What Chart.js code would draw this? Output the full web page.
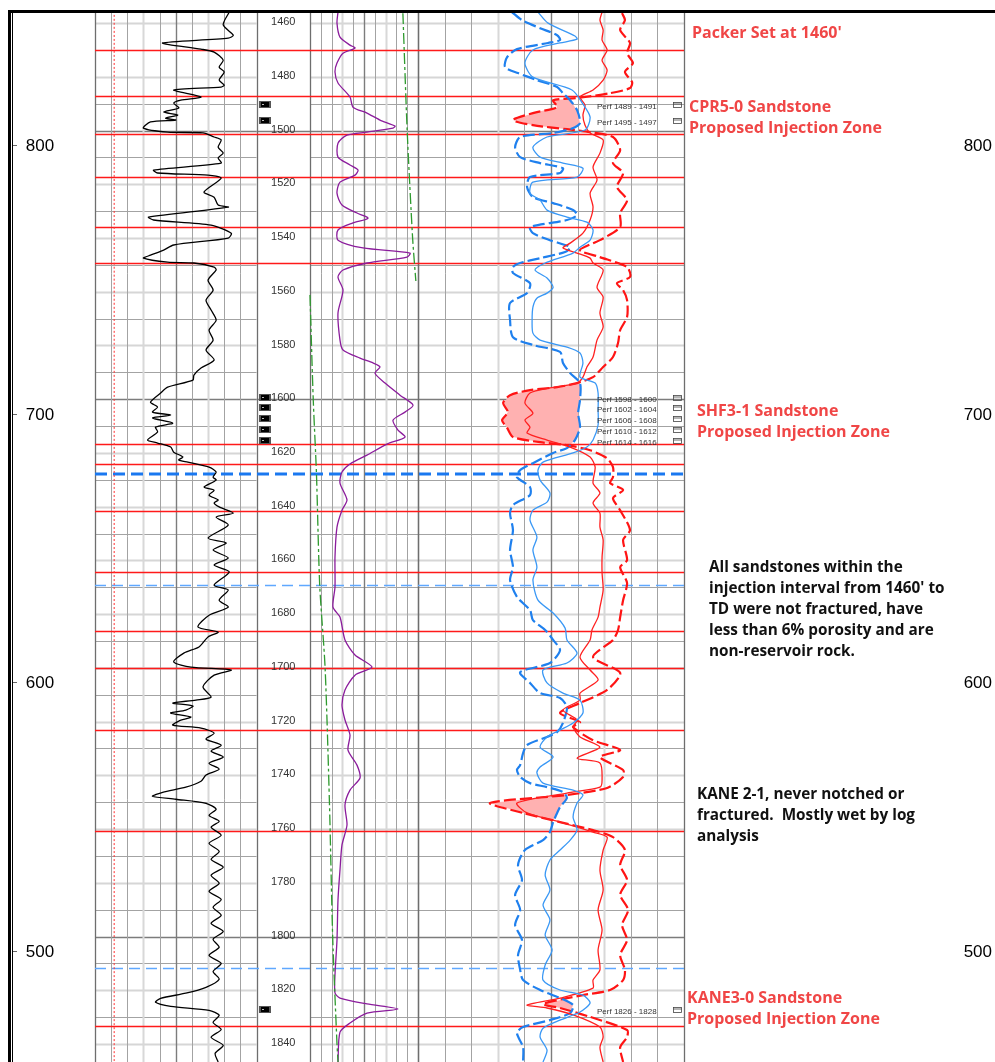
<!DOCTYPE html>
<html>
<head>
<meta charset="utf-8">
<title>Injection interval log</title>
<script src="https://cdn.jsdelivr.net/npm/chart.js@4.4.0/dist/chart.umd.min.js"></script>
<style>
  html, body { margin: 0; padding: 0; background: #fff; }
  canvas { display: block; }
</style>
</head>
<body>
<canvas id="logChart" width="995" height="1062"></canvas>
<script>
'use strict';

// ---- Depth window (ft) and elevation reference ----
const DEPTH_TOP = 1455.5;
const DEPTH_BOTTOM = 1846.7;
const KB_ELEV = 2305.4;                 // elevation = KB_ELEV - depth
const ELEV_TICKS = [800, 700, 600, 500];
const DEPTH_LABELS = [1460, 1480, 1500, 1520, 1540, 1560, 1580, 1600, 1620, 1640, 1660, 1680, 1700, 1720, 1740, 1760, 1780, 1800, 1820, 1840];

// ---- Curve scales ----
const GR_SCALE = [0, 160];              // API
const GR_BASELINE = 19;                 // API, dotted red
const SP_SCALE = [-100, 8];             // mV
const TEMP_SCALE = [100, 110];          // degF, wraps around the track
const POR_SCALE = [0, 100];             // track 4 units

// ---- Curves: [depth ft, value] ----
const GR = [[1455.9,133],[1460.7,127],[1464.5,137],[1465.6,132],[1467.4,67],[1469.7,105],[1470.8,118],[1473.8,127],[1476.4,123],[1478.2,128],[1481.2,123],[1483.1,128],[1483.8,125],[1484.9,78],[1487.5,105],[1488.7,85],[1489.8,78],[1491.6,83],[1493.1,68],[1494.2,82],[1495.4,70],[1496.1,80],[1496.8,55],[1499.1,48],[1500.6,72],[1500.9,107],[1502.4,118],[1503.5,125],[1506.2,122],[1508.4,127],[1510.2,122],[1512.1,125],[1514.7,58],[1515.8,62],[1516.6,112],[1517.7,125],[1522.9,108],[1524.8,118],[1527.7,122],[1528.5,132],[1532.2,53],[1533.3,58],[1535.2,115],[1538.2,135],[1540.0,132],[1542.6,78],[1544.5,68],[1546.4,55],[1547.5,48],[1549.0,72],[1549.3,98],[1550.8,118],
  [1551.9,120],[1555.7,112],[1559.4,117],[1563.1,110],[1566.8,115],[1570.6,120],[1574.3,113],[1578.0,117],[1581.7,110],[1585.4,118],[1588.4,105],[1591.0,98],[1592.9,97],[1595.5,72],[1597.7,65],[1601.1,55],[1602.9,62],[1604.8,57],[1605.9,75],[1607.0,57],[1608.9,77],[1610.4,60],[1612.2,62],[1615.2,52],[1616.3,62],[1617.8,75],[1619.7,78],[1621.5,87],[1622.6,83],[1623.4,92],[1625.3,113],[1627.1,120],[1629.0,117],[1630.1,120],[1632.7,108],[1633.9,118],[1635.7,113],[1637.5,122],[1638.6,118],[1640.1,123],[1642.4,137],[1643.9,120],[1646.8,132],[1651.7,112],[1653.5,130],[1656.1,117],[1659.1,132],[1661.7,118],[1664.3,133],[1669.2,118],[1671.0,132],[1674.8,123],[1677.4,132],[1680.4,113],[1684.8,102],[1686.7,122],[1688.5,112],[1692.2,103],[1694.5,88],[1697.8,78],[1699.7,95],[1700.8,135],[1702.7,118],[1707.1,107],[1710.9,115],
  [1712.0,100],[1713.1,77],[1714.2,97],[1715.7,90],[1716.8,75],[1718.3,95],[1719.8,83],[1721.3,77],[1722.4,105],[1724.3,118],[1726.5,110],[1728.8,125],[1731.0,115],[1733.2,127],[1735.5,113],[1737.7,123],[1739.9,110],[1742.2,105],[1744.4,90],[1746.3,67],[1747.8,57],[1748.9,80],[1750.4,110],[1752.6,120],[1754.9,113],[1757.1,123],[1759.3,115],[1762.3,125],[1765.3,113],[1768.3,123],[1771.3,115],[1774.2,127],[1777.2,115],[1780.2,123],[1783.2,113],[1786.2,125],[1789.1,117],[1792.1,125],[1795.1,115],[1798.1,127],[1801.0,117],[1804.0,123],[1807.0,113],[1810.0,125],[1813.0,117],[1815.9,123],[1818.9,110],[1821.1,90],[1823.0,65],[1824.5,60],[1826.0,75],[1827.5,113],[1829.3,123],[1832.0,117],[1834.6,125],[1837.5,115],[1840.5,127],[1843.5,119],[1846.7,122]];

const SP = [[1455.9,-72],[1460.0,-73],[1465.2,-70],[1468.2,-60],[1469.3,-55],[1471.2,-67],[1474.9,-73],[1478.2,-75],[1482.3,-72],[1487.5,-60],[1491.3,-57],[1493.5,-43],[1496.1,-30],[1498.3,-15],[1499.1,-17],[1500.6,-43],[1501.7,-63],[1504.7,-72],[1509.9,-72],[1512.8,-60],[1514.7,-52],[1516.6,-55],[1519.2,-70],[1523.3,-73],[1527.7,-68],[1530.7,-53],[1532.6,-42],[1534.4,-57],[1537.0,-72],[1540.8,-72],[1543.7,-47],[1545.6,0],[1547.1,-3],[1549.3,-43],[1551.9,-67],[1554.5,-72],[1559.4,-67],[1567.9,-72],[1578.0,-70],[1581.7,-67],[1584.7,-50],[1586.5,-37],[1588.0,-30],[1590.3,-35],[1594.0,-25],[1598.5,-10],[1602.2,3],[1604.8,-5],[1607.8,-17],[1611.5,-12],[1614.1,-5],[1616.7,-23],[1620.8,-43],[1624.1,-60],[1627.1,-68],[1631.2,-70],[1637.5,-63],[1641.3,-68],[1647.6,-73],[1658.7,-75],[1669.9,-75],[1677.4,-77],[1681.1,-70],[1689.6,-65],[1695.2,-55],[1699.7,-38],[1702.7,-55],[1708.2,-65],[1713.8,-68],[1719.4,-65],[1725.0,-60],[1730.6,-62],[1736.2,-53],[1741.0,-50],[1745.5,-60],[1751.0,-65],[1758.5,-63],[1765.9,-68],[1775.2,-70],[1786.4,-72],[1801.3,-73],[1814.3,-75],[1821.0,-75],[1822.9,-70],[1825.1,-43],[1827.0,-12],[1828.5,-43],[1832.2,-60],[1835.6,-70],[1846.7,-72]];

const TEMP = [[1456.3,108.6],[1500.3,109.0],[1540.0,109.5],[1556.0,109.8],[1561.2,110.0],[1600.0,110.3],[1627.8,110.6],[1669.2,110.9],[1700.0,111.4],[1750.0,111.8],[1800.0,112.1],[1840.0,112.5],[1846.7,112.6]];

// track 4: blue dashed / blue solid / red solid / red dashed
const BLUE_DASH = [[1455.9,35.3],[1458.9,39.1],[1461.9,45.9],[1464.5,52.3],[1466.3,53.4],[1467.4,48.9],[1469.7,37.2],[1472.7,33.5],[1476.4,32.7],[1478.6,37.6],[1481.2,44.7],[1483.8,52.3],[1486.1,54.5],[1488.7,57.2],[1492.4,59.8],[1497.2,60.9],[1499.1,58.3],[1500.9,50.8],[1502.4,38.4],[1506.2,36.5],[1509.9,38.4],[1512.1,45.9],[1514.0,54.5],[1515.8,53.4],[1517.3,42.1],[1521.0,41.0],[1524.8,43.2],[1527.0,50.8],[1529.6,58.3],[1531.5,59.8],[1533.3,56.0],[1535.9,42.1],[1538.2,43.2],[1540.8,49.6],[1543.4,57.2],[1545.2,55.3],[1547.5,45.9],[1549.3,38.4],[1550.8,35.7],[1553.0,35.7],[1556.8,42.1],[1560.5,41.0],[1564.2,34.6],[1570.5,34.6],[1576.9,35.7],[1579.8,43.2],[1582.4,53.4],[1586.5,54.5],[1590.3,57.2],[1594.0,60.9],[1600.3,60.9],[1605.2,60.2],[1610.4,60.9],[1615.2,59.0],[1618.2,56.0],[1620.0,50.8],[1623.8,43.2],[1626.4,38.4],[1629.0,37.2],[1632.7,42.1],[1635.7,42.1],[1639.4,35.7],[1642.4,34.6],[1648.7,35.7],[1656.1,34.6],[1662.5,35.7],[1667.3,34.6],[1673.6,37.2],[1678.5,42.1],[1682.2,43.2],[1685.9,47.8],[1689.6,50.8],[1693.4,53.4],[1698.2,49.6],[1701.6,38.4],[1705.6,42.1],[1709.4,45.9],[1711.2,53.4],[1714.6,56.0],[1720.5,54.5],[1723.9,52.3],[1725.7,48.5],[1728.7,41.0],[1731.7,39.5],[1736.2,38.4],[1738.0,37.2],[1740.6,38.4],[1742.9,42.1],[1744.4,48.5],[1746.2,54.5],[1748.4,56.0],[1751.8,53.4],[1754.0,52.3],[1757.4,50.8],[1761.1,49.6],[1764.1,47.0],[1767.8,40.2],[1773.4,37.6],[1779.0,39.1],[1784.5,36.5],[1790.1,38.4],[1795.7,36.5],[1801.3,39.1],[1806.9,37.6],[1812.4,38.4],[1816.2,39.5],[1819.9,45.9],[1822.9,53.4],[1825.5,58.3],[1828.5,57.2],[1831.1,49.6],[1833.7,39.5],[1835.9,37.2],[1841.2,39.5],[1846.7,39.5]];

const BLUE_SOLID = [[1455.9,45.1],[1460.0,48.9],[1464.8,59.0],[1466.0,59.8],[1467.4,53.4],[1470.0,43.2],[1474.9,40.2],[1480.1,43.2],[1484.9,57.9],[1490.1,62.0],[1495.0,64.7],[1499.8,62.8],[1502.4,48.5],[1506.2,43.2],[1509.9,45.9],[1512.1,54.5],[1514.0,62.0],[1517.3,59.8],[1519.2,43.2],[1523.3,42.1],[1525.9,45.9],[1529.6,48.5],[1532.2,56.0],[1534.1,63.5],[1537.0,65.8],[1540.8,64.7],[1543.4,60.9],[1545.6,58.3],[1549.3,47.8],[1551.9,44.0],[1554.9,48.5],[1558.3,50.8],[1560.5,48.5],[1562.4,44.7],[1565.7,43.2],[1570.5,42.9],[1575.4,43.2],[1578.0,45.9],[1580.6,56.0],[1582.8,60.9],[1586.5,62.0],[1591.8,60.9],[1594.0,66.6],[1597.7,67.7],[1604.0,67.7],[1609.6,67.7],[1615.2,65.8],[1617.8,63.5],[1620.0,58.3],[1623.4,47.0],[1626.4,45.1],[1630.1,45.9],[1634.9,49.6],[1638.3,48.5],[1641.3,43.2],[1645.0,42.1],[1651.3,44.7],[1656.1,43.2],[1662.5,44.7],[1667.3,43.2],[1674.8,45.1],[1679.6,50.8],[1685.2,55.3],[1689.6,56.0],[1694.5,59.8],[1698.2,56.0],[1700.8,47.0],[1705.6,48.5],[1709.4,54.5],[1712.0,60.9],[1716.8,62.0],[1720.5,58.3],[1723.1,53.4],[1725.7,48.5],[1729.5,45.9],[1733.2,50.8],[1736.9,45.9],[1739.1,44.7],[1742.9,47.0],[1745.5,58.3],[1747.3,62.0],[1750.3,59.8],[1755.5,58.3],[1760.3,59.8],[1764.1,57.2],[1767.8,53.4],[1771.5,49.6],[1777.1,47.8],[1782.7,49.6],[1788.3,47.0],[1793.8,49.6],[1799.4,47.8],[1805.0,50.4],[1810.6,47.8],[1816.2,47.0],[1819.9,53.4],[1821.8,62.0],[1824.7,64.7],[1828.1,60.9],[1831.1,53.4],[1834.1,47.0],[1837.4,45.9],[1842.3,48.5],[1846.7,47.0]];

const RED_SOLID = [[1455.9,69.2],[1458.9,68.4],[1462.6,69.6],[1466.3,69.2],[1470.0,71.1],[1473.8,69.2],[1477.5,71.1],[1481.2,69.6],[1484.9,65.8],[1487.5,60.9],[1490.5,62.8],[1494.2,62.0],[1498.0,62.8],[1500.9,64.7],[1503.5,69.6],[1508.4,68.4],[1513.6,65.8],[1518.4,67.3],[1523.3,64.7],[1528.5,65.8],[1533.3,64.7],[1538.2,62.0],[1541.9,57.2],[1543.7,54.5],[1545.6,59.8],[1547.5,64.7],[1549.3,65.8],[1551.9,69.6],[1558.3,67.3],[1562.0,69.6],[1567.9,68.4],[1573.1,69.6],[1578.0,67.3],[1584.3,65.8],[1588.0,63.5],[1591.8,62.0],[1594.0,59.8],[1595.8,49.6],[1597.7,42.1],[1601.4,40.2],[1605.2,43.2],[1607.8,40.2],[1610.4,42.1],[1612.6,41.0],[1615.2,48.5],[1617.8,57.2],[1621.5,64.7],[1625.3,66.6],[1631.2,65.8],[1634.9,68.4],[1638.6,65.8],[1642.4,68.4],[1647.6,68.4],[1652.4,69.6],[1658.7,69.2],[1664.7,69.2],[1671.0,69.6],[1677.4,68.4],[1681.1,67.7],[1685.9,65.4],[1689.6,64.7],[1696.0,60.9],[1700.8,64.7],[1704.5,67.7],[1709.4,60.9],[1712.0,60.9],[1715.7,54.5],[1719.4,59.8],[1722.0,58.3],[1725.7,60.9],[1729.5,68.4],[1733.6,59.8],[1735.4,68.4],[1741.7,69.2],[1744.4,68.4],[1746.6,56.0],[1750.3,37.2],[1754.0,41.0],[1757.4,53.4],[1761.1,65.8],[1763.0,71.1],[1767.8,69.6],[1775.2,68.4],[1782.7,69.6],[1790.1,67.7],[1797.6,69.2],[1805.0,67.7],[1812.4,68.4],[1816.2,65.8],[1819.2,65.8],[1822.9,53.4],[1825.5,41.0],[1826.6,48.5],[1829.2,58.3],[1833.7,68.4],[1837.4,69.6],[1841.2,68.4],[1846.7,69.6]];

const RED_DASH = [[1456.3,76.7],[1458.9,77.8],[1462.6,76.0],[1467.4,79.7],[1471.2,78.6],[1474.9,80.8],[1478.2,77.8],[1482.0,80.5],[1484.2,79.7],[1486.1,72.2],[1487.9,59.8],[1488.7,50.8],[1491.3,52.3],[1493.5,43.2],[1496.1,35.7],[1498.0,43.2],[1499.5,56.0],[1500.6,64.7],[1502.4,73.3],[1507.3,76.0],[1512.1,73.3],[1515.8,77.1],[1521.0,74.8],[1525.9,78.6],[1530.7,76.0],[1535.9,76.0],[1540.8,68.4],[1544.5,60.9],[1547.1,68.4],[1550.8,78.6],[1554.5,79.7],[1556.8,74.8],[1559.4,77.1],[1563.1,78.6],[1569.4,78.6],[1574.3,76.0],[1579.1,75.2],[1584.3,73.3],[1588.0,69.6],[1591.8,65.8],[1594.0,59.8],[1595.5,52.3],[1596.6,42.1],[1598.5,34.6],[1601.4,32.0],[1604.8,33.8],[1607.8,31.6],[1610.7,33.5],[1614.1,35.7],[1616.0,45.9],[1617.1,56.0],[1619.0,64.7],[1622.0,71.1],[1625.3,73.3],[1629.0,73.3],[1631.2,72.2],[1633.8,77.1],[1636.8,73.3],[1641.3,76.0],[1648.7,79.7],[1652.4,77.1],[1659.9,78.6],[1662.5,76.0],[1668.4,78.6],[1674.8,77.1],[1681.1,76.0],[1685.9,75.2],[1689.6,73.3],[1696.0,65.8],[1701.9,76.0],[1708.2,71.1],[1713.1,60.9],[1716.8,53.4],[1720.2,60.9],[1722.0,58.3],[1726.9,65.8],[1730.6,76.0],[1733.2,68.4],[1738.0,77.1],[1740.6,77.1],[1744.7,71.1],[1747.3,56.0],[1750.3,27.1],[1754.0,39.5],[1757.4,53.4],[1760.4,65.8],[1763.0,73.3],[1767.8,77.8],[1773.4,76.0],[1779.0,78.6],[1784.5,76.0],[1790.1,79.0],[1795.7,76.7],[1801.3,78.6],[1806.9,76.0],[1812.4,77.8],[1816.2,77.1],[1819.9,72.2],[1821.8,62.0],[1825.1,47.0],[1826.6,53.4],[1829.9,64.7],[1834.8,78.6],[1837.4,78.6],[1841.2,76.0],[1846.7,77.1]];

// ---- Zones, tops, perforations ----
const FORMATION_TOPS = [1470.0, 1487.2, 1501.3, 1517.3, 1535.9, 1549.3, 1616.7, 1624.1, 1641.6, 1664.3, 1686.3, 1700.0, 1723.1, 1760.7, 1833.3];
const PACKER_DEPTH = [1627.8];
const MARKER_DEPTHS = [1669.2, 1811.7];
const CROSSOVER_ZONES = [[1486, 1502], [1593, 1619], [1745, 1759], [1820, 1831]];
const PERFS = [[1489, 1491], [1495, 1497], [1598, 1600], [1602, 1604], [1606, 1608], [1610, 1612], [1614, 1616], [1826, 1828]];

const RED_TXT = '#f04646';
const NOTES = [
  { x: 692, y: 33,  color: RED_TXT, size: 16, lines: ["Packer Set at 1460'"] },
  { x: 689, y: 107, color: RED_TXT, size: 16, lines: ['CPR5-0 Sandstone', 'Proposed Injection Zone'] },
  { x: 697, y: 411, color: RED_TXT, size: 16, lines: ['SHF3-1 Sandstone', 'Proposed Injection Zone'] },
  { x: 709, y: 568, color: '#111', size: 15.3, lines: ['All sandstones within the', "injection interval from 1460' to", 'TD were not fractured, have', 'less than 6% porosity and are', 'non-reservoir rock.'] },
  { x: 697, y: 795, color: '#111', size: 15.3, lines: ['KANE 2-1, never notched or', 'fractured.  Mostly wet by log', 'analysis'] },
  { x: 687, y: 998, color: RED_TXT, size: 16, lines: ['KANE3-0 Sandstone', 'Proposed Injection Zone'] },
];

// ---- Track layout (fractions of the plot width) ----
const TRACKS = {
  gr:    [0, 0.2742],
  depth: [0.2742, 0.3650],
  sp:    [0.3650, 0.5484],
  por:   [0.5484, 1],
};

function toX(track, scale, v) {
  const [a, b] = TRACKS[track];
  return a + (v - scale[0]) / (scale[1] - scale[0]) * (b - a);
}

const curve = (rows, track, scale) => rows.map(([d, v]) => ({ x: toX(track, scale, v), y: d }));

// temperature wraps back to the left edge when it passes the right edge
function tempSegments() {
  const span = TEMP_SCALE[1] - TEMP_SCALE[0];
  const segs = [];
  let cur = null, lastWrap = null;
  TEMP.forEach(([d, t]) => {
    const wrap = Math.floor((t - TEMP_SCALE[0]) / span);
    const v = t - wrap * span;
    if (wrap !== lastWrap) { cur = []; segs.push(cur); lastWrap = wrap; }
    cur.push({ x: toX('sp', TEMP_SCALE, v), y: d });
  });
  return segs;
}

const lineDs = (label, data, color, width, dash) => ({
  label, data, borderColor: color, borderWidth: width, borderDash: dash || [],
  showLine: true, pointRadius: 0, tension: 0.25, fill: false,
});

const datasets = [
  lineDs('GR baseline', [{ x: toX('gr', GR_SCALE, GR_BASELINE), y: DEPTH_TOP }, { x: toX('gr', GR_SCALE, GR_BASELINE), y: DEPTH_BOTTOM }], '#ff3030', 1, [2, 2]),
  ...tempSegments().map((s, i) => lineDs('Temp ' + i, s, '#2e9a2e', 1.3, [11, 3, 3, 3])),
  lineDs('SP', curve(SP, 'sp', SP_SCALE), '#8b1c9c', 1.3),
  lineDs('GR', curve(GR, 'gr', GR_SCALE), '#000000', 1.3),
  lineDs('Blue solid', curve(BLUE_SOLID, 'por', POR_SCALE), '#3a98f5', 1.3),
  lineDs('Red solid', curve(RED_SOLID, 'por', POR_SCALE), '#ff2020', 1.3),
  lineDs('Blue dashed', curve(BLUE_DASH, 'por', POR_SCALE), '#1f80ee', 2.2, [12, 4]),
  lineDs('Red dashed', curve(RED_DASH, 'por', POR_SCALE), '#ff1414', 2.2, [12, 4]),
];

const IDX_BD = datasets.findIndex(d => d.label === 'Blue dashed');
const IDX_RD = datasets.findIndex(d => d.label === 'Red dashed');

const crisp = v => Math.round(v) + 0.5;

function hLine(ctx, x1, x2, y, color, width, dash) {
  ctx.save();
  ctx.strokeStyle = color; ctx.lineWidth = width; ctx.setLineDash(dash || []);
  ctx.beginPath(); ctx.moveTo(x1, y); ctx.lineTo(x2, y); ctx.stroke();
  ctx.restore();
}

const logBackground = {
  id: 'logBackground',
  beforeDatasetsDraw(chart) {
    const { ctx, chartArea: ca, scales: { x, y } } = chart;
    const px = f => x.getPixelForValue(f);

    // horizontal depth grid in the curve tracks
    for (let d = 1460; d <= 1840; d += 10) {
      const yy = crisp(y.getPixelForValue(d));
      let color = '#a3a3a3', w = 1;
      if (d % 100 === 0) { color = '#7c7c7c'; w = 1.3; }
      else if (d % 20 === 0) { color = '#d6d6d6'; w = 2; }
      ['gr', 'sp', 'por'].forEach(t => hLine(ctx, px(TRACKS[t][0]), px(TRACKS[t][1]), yy, color, w));
      if (d % 100 === 0) hLine(ctx, px(TRACKS.depth[0]), px(TRACKS.depth[1]), yy, color, w);
    }

    // vertical grid, 10 divisions per curve track
    ['gr', 'sp', 'por'].forEach(t => {
      const [a, b] = TRACKS[t];
      [3, 7, 1, 2, 4, 6, 8, 9, 5, 0, 10].forEach(i => {
        const xx = crisp(px(a + (b - a) * i / 10));
        let color = '#a3a3a3', w = 1;
        if (i === 3 || i === 7) { color = '#d8d8d8'; w = 2; }
        if (i === 5) { color = '#7c7c7c'; w = 1.4; }
        if (i === 0 || i === 10) { color = '#6e6e6e'; w = 1.3; }
        ctx.save();
        ctx.strokeStyle = color; ctx.lineWidth = w;
        ctx.beginPath(); ctx.moveTo(xx, ca.top); ctx.lineTo(xx, ca.bottom); ctx.stroke();
        ctx.restore();
      });
    });

    // crossover shading: right of red dashed and left of blue dashed
    const rd = chart.getDatasetMeta(IDX_RD).data;
    const bd = chart.getDatasetMeta(IDX_BD).data;
    CROSSOVER_ZONES.forEach(([top, bot]) => {
      const y1 = y.getPixelForValue(top), y2 = y.getPixelForValue(bot);
      ctx.save();
      ctx.beginPath(); ctx.rect(ca.left, y1, ca.width, y2 - y1); ctx.clip();
      ctx.beginPath();
      rd.forEach((p, i) => i ? ctx.lineTo(p.x, p.y) : ctx.moveTo(p.x, p.y));
      ctx.lineTo(ca.right + 5, ca.bottom); ctx.lineTo(ca.right + 5, ca.top); ctx.closePath();
      ctx.clip();
      ctx.beginPath();
      bd.forEach((p, i) => i ? ctx.lineTo(p.x, p.y) : ctx.moveTo(p.x, p.y));
      ctx.lineTo(ca.left, ca.bottom); ctx.lineTo(ca.left, ca.top); ctx.closePath();
      ctx.fillStyle = '#ffb1b1';
      ctx.fill();
      ctx.restore();
    });

    // formation tops and markers
    FORMATION_TOPS.forEach(d => hLine(ctx, ca.left, ca.right, crisp(y.getPixelForValue(d)), '#ff1a1a', 1.5));
    MARKER_DEPTHS.forEach(d => hLine(ctx, ca.left, ca.right, crisp(y.getPixelForValue(d)), '#5fa8ff', 1.6, [11, 6]));
    PACKER_DEPTH.forEach(d => hLine(ctx, ca.left, ca.right, Math.round(y.getPixelForValue(d)), '#1a78f0', 3.2, [12, 6]));
  },

  afterDatasetsDraw(chart) {
    const { ctx, scales: { x, y } } = chart;
    const px = f => x.getPixelForValue(f);
    const depthMid = (px(TRACKS.depth[0]) + px(TRACKS.depth[1])) / 2;

    // depth labels
    ctx.save();
    ctx.font = '11px "Liberation Sans", Arial, sans-serif';
    ctx.fillStyle = '#333';
    ctx.textAlign = 'center';
    ctx.textBaseline = 'middle';
    DEPTH_LABELS.forEach(d => ctx.fillText(String(d), depthMid, y.getPixelForValue(d) - 1));
    ctx.restore();

    // perforations: marker in depth track, label and icon in track 4
    PERFS.forEach(([a, b]) => {
      const yy = Math.round(y.getPixelForValue((a + b) / 2));
      const mx = Math.round(px(TRACKS.depth[0])) + 2;
      ctx.fillStyle = '#555';
      ctx.fillRect(mx, yy - 3, 12, 7);
      ctx.fillStyle = '#000';
      ctx.fillRect(mx + 2, yy - 2, 8, 5);
      ctx.fillStyle = '#bbb';
      ctx.fillRect(mx + 3, yy, 2, 1);

      ctx.font = '8px "Liberation Sans", Arial, sans-serif';
      ctx.fillStyle = '#333';
      ctx.textAlign = 'left';
      ctx.textBaseline = 'middle';
      ctx.fillText('Perf ' + a + ' - ' + b, 597, yy + 3);
      ctx.strokeStyle = '#444';
      ctx.lineWidth = 0.8;
      ctx.strokeRect(673.5, yy - 1.5, 8, 5);
      ctx.beginPath(); ctx.moveTo(673.5, yy); ctx.lineTo(681.5, yy); ctx.stroke();
    });

    // outer frame
    ctx.fillStyle = '#000';
    ctx.fillRect(8, 10, 3, chart.height - 10);
    ctx.fillRect(12, 10, 1, chart.height - 10);
    ctx.fillRect(8, 10, chart.width - 8, 3);

    // elevation axis, both sides
    ctx.save();
    ctx.font = '17px "Liberation Sans", Arial, sans-serif';
    ctx.textBaseline = 'middle';
    ELEV_TICKS.forEach(e => {
      const yy = Math.round(y.getPixelForValue(KB_ELEV - e));
      ctx.fillStyle = '#666';
      ctx.fillRect(13, yy, 4, 1);
      ctx.fillStyle = '#000';
      ctx.textAlign = 'center';
      ctx.fillText(String(e), 40, yy + 1);
      ctx.textAlign = 'right';
      ctx.fillText(String(e), 992, yy + 1);
    });
    ctx.restore();

    // notes
    ctx.save();
    ctx.textAlign = 'left';
    ctx.textBaseline = 'middle';
    NOTES.forEach(n => {
      ctx.font = 'bold ' + n.size + 'px "Open Sans", "DejaVu Sans", sans-serif';
      ctx.fillStyle = n.color;
      n.lines.forEach((t, i) => ctx.fillText(t, n.x, n.y + i * 21));
    });
    ctx.restore();
  },
};

new Chart(document.getElementById('logChart'), {
  type: 'scatter',
  data: { datasets },
  options: {
    responsive: false,
    devicePixelRatio: 1,
    animation: false,
    layout: { padding: { left: 95, right: 311, top: 11, bottom: 0 } },
    plugins: { legend: { display: false }, tooltip: { enabled: false } },
    scales: {
      x: { type: 'linear', min: 0, max: 1, display: false },
      y: { type: 'linear', min: DEPTH_TOP, max: DEPTH_BOTTOM, reverse: true, display: false },
    },
  },
  plugins: [logBackground],
});
</script>
</body>
</html>
